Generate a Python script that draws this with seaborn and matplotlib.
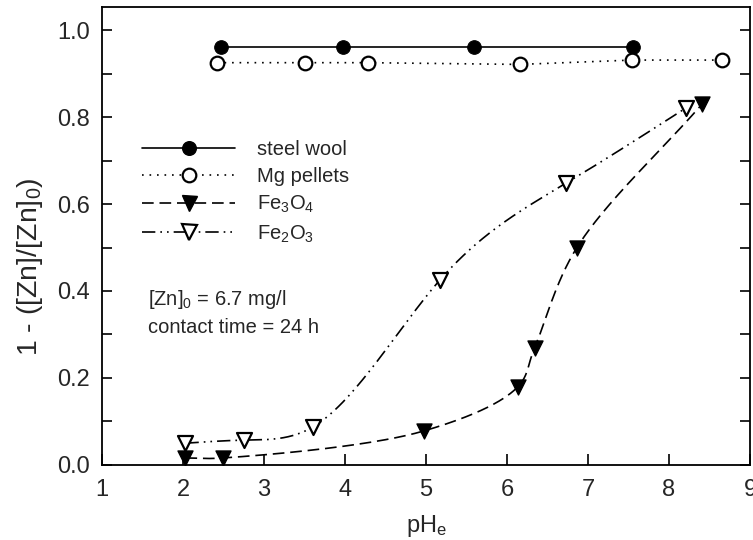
import numpy as np
import pandas as pd
import seaborn as sns
import matplotlib
matplotlib.use("Agg")
import matplotlib.pyplot as plt
from matplotlib.lines import Line2D

# ---- data ----
steel_x = [2.47, 3.98, 5.59, 7.55]
steel_y = [0.962, 0.962, 0.962, 0.962]

mg_x = [2.42, 3.50, 4.28, 6.16, 7.54, 8.65]
mg_y = [0.925, 0.925, 0.925, 0.921, 0.931, 0.931]

fe3o4_x = [2.03, 2.49, 4.97, 6.13, 6.34, 6.86, 8.41]
fe3o4_y = [0.016, 0.016, 0.078, 0.179, 0.269, 0.499, 0.830]

fe2o3_x = [2.03, 2.75, 3.60, 5.17, 6.73, 8.21]
fe2o3_y = [0.050, 0.057, 0.087, 0.425, 0.648, 0.821]

labels = ["steel wool", "Mg pellets", r"Fe$_3$O$_4$", r"Fe$_2$O$_3$"]
x_ticks = [1, 2, 3, 4, 5, 6, 7, 8, 9]
y_ticks = [0.0, 0.2, 0.4, 0.6, 0.8, 1.0]

sns.set_theme(style="ticks")
plt.rcParams["font.family"] = ["Liberation Sans", "DejaVu Sans"]
plt.rcParams["mathtext.fontset"] = "custom"
plt.rcParams["mathtext.rm"] = "Liberation Sans"
plt.rcParams["mathtext.it"] = "Liberation Sans:italic"


def catmull_rom(xs, ys, n=60, xscale=80.75, yscale=435.0, alpha=0.5):
    """Centripetal Catmull-Rom curve through the measured points."""
    P = np.column_stack([np.asarray(xs, float) * xscale, np.asarray(ys, float) * yscale])
    P = np.vstack([2 * P[0] - P[1], P, 2 * P[-1] - P[-2]])
    out = []
    for i in range(1, len(P) - 2):
        p0, p1, p2, p3 = P[i - 1], P[i], P[i + 1], P[i + 2]
        t0 = 0.0
        t1 = t0 + np.linalg.norm(p1 - p0) ** alpha
        t2 = t1 + np.linalg.norm(p2 - p1) ** alpha
        t3 = t2 + np.linalg.norm(p3 - p2) ** alpha
        t = np.linspace(t1, t2, n)[:, None]
        A1 = (t1 - t) / (t1 - t0) * p0 + (t - t0) / (t1 - t0) * p1
        A2 = (t2 - t) / (t2 - t1) * p1 + (t - t1) / (t2 - t1) * p2
        A3 = (t3 - t) / (t3 - t2) * p2 + (t - t2) / (t3 - t2) * p3
        B1 = (t2 - t) / (t2 - t0) * A1 + (t - t0) / (t2 - t0) * A2
        B2 = (t3 - t) / (t3 - t1) * A2 + (t - t1) / (t3 - t1) * A3
        C = (t2 - t) / (t2 - t1) * B1 + (t - t1) / (t2 - t1) * B2
        out.append(C if i == 1 else C[1:])
    C = np.vstack(out)
    return C[:, 0] / xscale, C[:, 1] / yscale


def natural_spline(xs, ys, n=60):
    """Natural cubic spline y(x) through the measured points."""
    x = np.asarray(xs, float)
    y = np.asarray(ys, float)
    k = len(x)
    h = np.diff(x)
    A = np.zeros((k, k))
    b = np.zeros(k)
    A[0, 0] = A[-1, -1] = 1.0
    for i in range(1, k - 1):
        A[i, i - 1] = h[i - 1]
        A[i, i] = 2 * (h[i - 1] + h[i])
        A[i, i + 1] = h[i]
        b[i] = 6 * ((y[i + 1] - y[i]) / h[i] - (y[i] - y[i - 1]) / h[i - 1])
    M = np.linalg.solve(A, b)
    xx, yy = [], []
    for i in range(k - 1):
        t = np.linspace(x[i], x[i + 1], n)
        a = x[i + 1] - t
        c = t - x[i]
        s = (M[i] * a ** 3 + M[i + 1] * c ** 3) / (6 * h[i]) \
            + (y[i] / h[i] - M[i] * h[i] / 6) * a \
            + (y[i + 1] / h[i] - M[i + 1] * h[i] / 6) * c
        if i > 0:
            t, s = t[1:], s[1:]
        xx.append(t)
        yy.append(s)
    return np.concatenate(xx), np.concatenate(yy)


fig = plt.figure(figsize=(7.53, 5.40), dpi=100)
ax = fig.add_axes([0.1355, 0.139, 0.8605, 0.848])

lw = 1.2
ms = 9.8
ls_mg = (0, (1, 3.5))
ls_fe3 = (0, (7, 3.5))
ls_fe2 = (0, (8, 3, 1, 3, 1, 3))

# steel wool
sns.lineplot(x=steel_x, y=steel_y, ax=ax, color="black", lw=lw, sort=False,
             marker="o", markersize=ms, markerfacecolor="black",
             markeredgecolor="black", legend=False)
# Mg pellets
sns.lineplot(x=mg_x, y=mg_y, ax=ax, color="black", lw=lw, sort=False,
             linestyle=ls_mg, marker="o", markersize=ms,
             markerfacecolor="white", markeredgecolor="black",
             markeredgewidth=1.6, legend=False)
# Fe3O4 smooth curve + markers
cx, cy = catmull_rom(fe3o4_x, fe3o4_y)
sns.lineplot(x=cx, y=cy, ax=ax, color="black", lw=lw, sort=False,
             linestyle=ls_fe3, legend=False)
sns.scatterplot(x=fe3o4_x, y=fe3o4_y, ax=ax, marker="v", s=(ms + 1) ** 2,
                color="black", edgecolor="black", linewidth=1.0, zorder=5,
                legend=False)
# Fe2O3 smooth curve + markers
cx, cy = natural_spline(fe2o3_x, fe2o3_y)
sns.lineplot(x=cx, y=cy, ax=ax, color="black", lw=lw, sort=False,
             linestyle=ls_fe2, legend=False)
sns.scatterplot(x=fe2o3_x, y=fe2o3_y, ax=ax, marker="v", s=(ms + 1) ** 2,
                facecolor="white", edgecolor="black", linewidth=1.6, zorder=5,
                legend=False)

ax.set_xlim(1, 9)
ax.set_ylim(0, 1.053)
ax.set_xticks(x_ticks)
ax.set_xticklabels([str(v) for v in x_ticks])
ax.set_yticks(y_ticks)
ax.set_yticklabels([f"{v:.1f}" for v in y_ticks])
ax.set_yticks(np.arange(0.1, 1.01, 0.2), minor=True)

for s in ax.spines.values():
    s.set_visible(True)
    s.set_linewidth(1.3)
    s.set_color("black")

ax.tick_params(axis="x", which="major", direction="in", length=8, width=1.2,
               labelsize=17, pad=10, top=False, color="black")
ax.tick_params(axis="y", which="both", direction="in", length=7, width=1.2,
               labelsize=17, pad=9, right=True, left=True, color="black")
ax.tick_params(axis="x", which="minor", bottom=False, top=False)

ax.set_xlabel(r"pH$_\mathrm{e}$", fontsize=17)
ax.xaxis.set_label_coords(0.5, -0.105)
ax.set_ylabel(r"1 - ([Zn]/[Zn]$_0$)", fontsize=20.5)
ax.yaxis.set_label_coords(-0.088, 0.434)

ax.text(1.57, 0.381, r"[Zn]$_0$ = 6.7 mg/l", fontsize=14.5, va="center", ha="left")
ax.text(1.57, 0.315, "contact time = 24 h", fontsize=14.5, va="center", ha="left")

handles = [
    Line2D([], [], color="black", lw=lw, marker="o", markersize=ms,
           markerfacecolor="black", markeredgecolor="black"),
    Line2D([], [], color="black", lw=lw, linestyle=ls_mg, marker="o",
           markersize=ms, markerfacecolor="white", markeredgecolor="black",
           markeredgewidth=1.6),
    Line2D([], [], color="black", lw=lw, linestyle=ls_fe3, marker="v",
           markersize=ms + 1, markerfacecolor="black", markeredgecolor="black"),
    Line2D([], [], color="black", lw=lw, linestyle=ls_fe2, marker="v",
           markersize=ms + 1, markerfacecolor="white", markeredgecolor="black",
           markeredgewidth=1.6),
]
ax.legend(handles, labels, loc="upper left", bbox_to_anchor=(0.062, 0.71),
          frameon=False, fontsize=14.5, handlelength=4.6, handletextpad=1.1,
          labelspacing=0.4, borderpad=0, borderaxespad=0, numpoints=1)

fig.savefig("out.png", dpi=100, facecolor="white")
